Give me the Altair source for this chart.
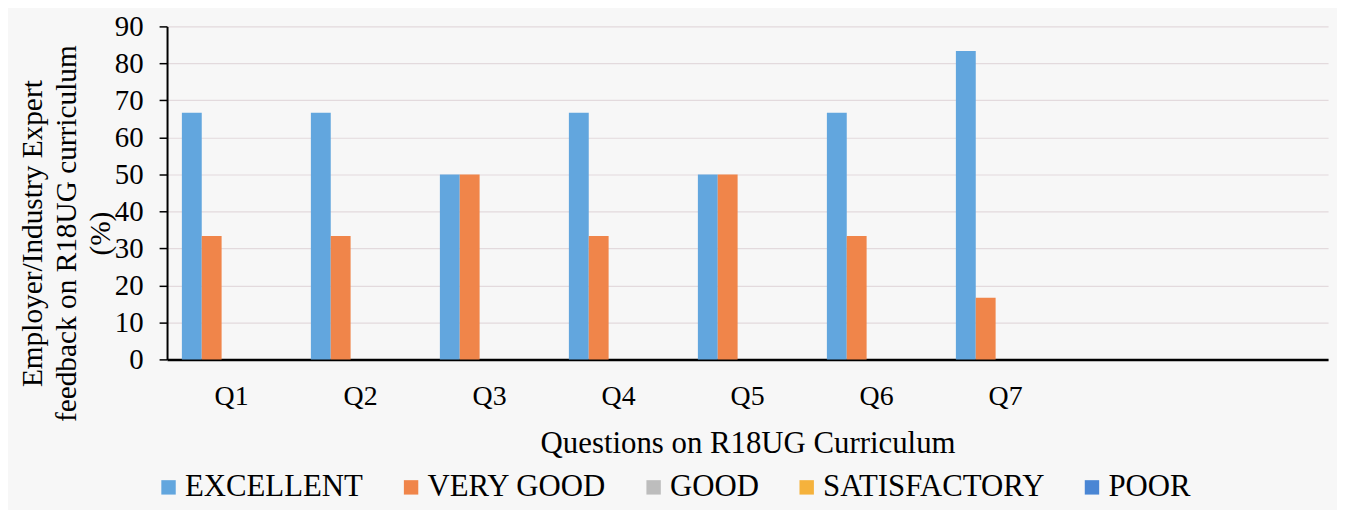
import altair as alt
import pandas as pd

questions = ["Q1", "Q2", "Q3", "Q4", "Q5", "Q6", "Q7"]
axis_slots = ["Q1", "Q2", "Q3", "Q4", "Q5", "Q6", "Q7", "Q8", "Q9"]  # Q8, Q9 are empty slots
ratings = ["EXCELLENT", "VERY GOOD", "GOOD", "SATISFACTORY", "POOR"]
excellent = [66.67, 66.67, 50.0, 66.67, 50.0, 66.67, 83.33]
very_good = [33.33, 33.33, 50.0, 33.33, 50.0, 33.33, 16.67]
good = [0, 0, 0, 0, 0, 0, 0]
satisfactory = [0, 0, 0, 0, 0, 0, 0]
poor = [0, 0, 0, 0, 0, 0, 0]
colors = ["#62a6de", "#f0854a", "#bdbdbd", "#f5b23c", "#4a86d4"]

series = [excellent, very_good, good, satisfactory, poor]
rows = []
for r, vals in zip(ratings, series):
    for q, v in zip(questions, vals):
        rows.append({"Question": q, "Rating": r, "Value": v})
df = pd.DataFrame(rows)

FONT = "Liberation Serif"

chart = alt.Chart(df).mark_bar().encode(
    x=alt.X("Question:N",
            scale=alt.Scale(domain=axis_slots, paddingInner=0.23, paddingOuter=0.115),
            axis=alt.Axis(title="Questions on R18UG Curriculum",
                          labelExpr="datum.value == 'Q8' || datum.value == 'Q9' ? '' : datum.label",
                          labelAngle=0, labelFont=FONT, labelFontSize=28, labelColor="black",
                          labelPadding=23, ticks=False, tickSize=0,
                          domainColor="black", domainWidth=2.5,
                          titleFont=FONT, titleFontSize=31, titleFontWeight="normal",
                          titleColor="black", titleBaseline="alphabetic",
                          titleX=584, titleY=94, titleAnchor="middle")),
    xOffset=alt.XOffset("Rating:N", scale=alt.Scale(domain=ratings, paddingInner=0, paddingOuter=0)),
    y=alt.Y("Value:Q",
            scale=alt.Scale(domain=[0, 90], nice=False),
            axis=alt.Axis(values=list(range(0, 91, 10)),
                          title=["Employer/Industry Expert", "feedback on R18UG curriculum", "(%)"],
                          titleFont=FONT, titleFontSize=29.5, titleFontWeight="normal",
                          titleColor="black", titleLineHeight=34, titleAngle=270,
                          titleBaseline="middle", titleAlign="center",
                          titleX=-135, titleY=208,
                          labelFont=FONT, labelFontSize=29, labelColor="black",
                          labelPadding=16, tickSize=8, tickColor="black", tickWidth=1.5,
                          domainColor="black", domainWidth=2,
                          grid=True, gridColor="#e3dadd", gridWidth=1.2)),
    color=alt.Color("Rating:N",
                    scale=alt.Scale(domain=ratings, range=colors),
                    legend=alt.Legend(title=None, orient="none", direction="horizontal",
                                      columns=5, legendX=-14, legendY=448,
                                      symbolType="square", symbolSize=210,
                                      symbolStrokeWidth=0, labelFont=FONT,
                                      labelFontSize=31, labelColor="black",
                                      labelOffset=1, columnPadding=32, padding=0,
                                      labelLimit=400)),
).properties(
    width=1168,
    height=335,
    autosize=alt.AutoSizeParams(type="none"),
    padding={"left": 160, "top": 17, "right": 9, "bottom": 150},
    background="#f7f7f7",
).configure_view(stroke=None)

chart.save("out.html", embed_options={"renderer": "svg", "actions": False})
